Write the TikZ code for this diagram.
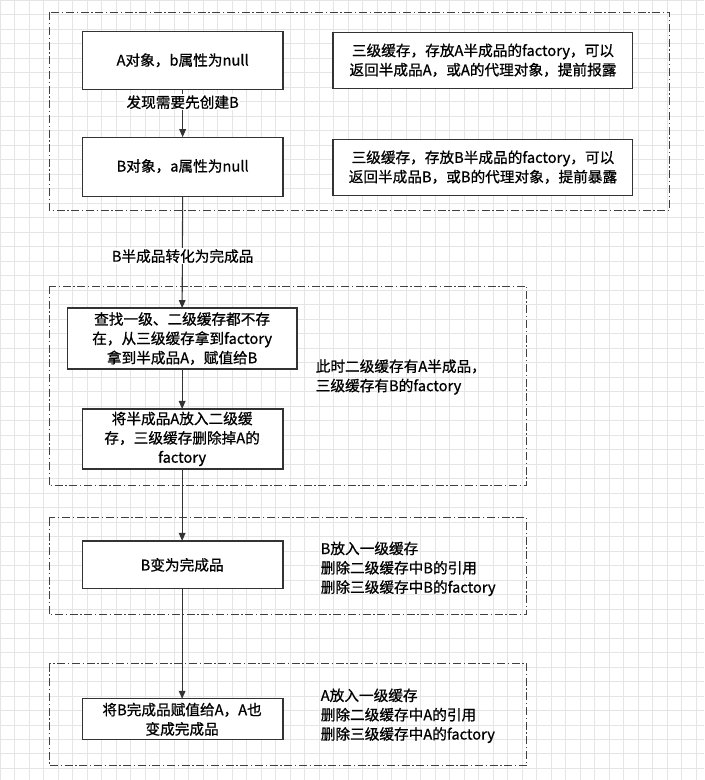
\documentclass[tikz,border=0pt]{standalone}
\usepackage{fontspec}
\setmainfont{Noto Sans CJK SC}[FakeBold=0.8]
\usetikzlibrary{arrows.meta}
\begin{document}
\begin{tikzpicture}[x=0.75pt,y=-0.75pt,
  font=\fontsize{11}{14.5}\selectfont,
  grp/.style={draw=black!75,dash pattern=on 6pt off 2pt on 1pt off 2pt,line width=0.8pt},
  bx/.style={draw=black!80,line width=0.9pt},
  arr/.style={-{Triangle[length=6pt,width=5pt]},draw=black!80,line width=0.8pt},
  lbl/.style={fill=white,inner sep=1pt}]
\fill[white] (0,0) rectangle (704,780);
\draw[black!10,step=14.5*0.75pt] (0,0) grid (704,780);
\useasboundingbox (0,0) rectangle (704,780);
% groups
\draw[grp] (49,12) rectangle (670,210);
\draw[grp] (49,286) rectangle (527,486);
\draw[grp] (49,518) rectangle (527,615);
\draw[grp] (49,664) rectangle (527,766);
% boxes
\draw[bx,fill=white] (82,31) rectangle (283,89); \node (a) at (182.5,60) {A对象，b属性为null};
\coordinate (aB) at (182.5,89);
\draw[bx,fill=white] (82,137) rectangle (283,196); \node (b) at (182.5,166) {B对象，a属性为null};
\coordinate (bT) at (182.5,137); \coordinate (bB) at (182.5,196);
\draw[bx,fill=white] (333,32) rectangle (633,88);
\node[align=center] (r1) at (483,60) {三级缓存，存放A半成品的factory，可以\\返回半成品A，或A的代理对象，提前报露};
\draw[bx,fill=white] (333,139) rectangle (633,195);
\node[align=center] (r2) at (483,167) {三级缓存，存放B半成品的factory，可以\\返回半成品B，或B的代理对象，提前暴露};
\draw[bx,fill=white] (67,308) rectangle (297,369);
\node[align=center] (c) at (182,338.5) {查找一级、二级缓存都不存\\在，从三级缓存拿到factory\\拿到半成品A，赋值给B};
\coordinate (cT) at (182,308); \coordinate (cB) at (182,369);
\draw[bx,fill=white] (82,409) rectangle (283,469);
\node[align=center] (d) at (182,439) {将半成品A放入二级缓\\存，三级缓存删除掉A的\\factory};
\coordinate (dT) at (182,409); \coordinate (dB) at (182,469);
\node[align=left,anchor=west] (dn) at (311,377) {此时二级缓存有A半成品，\\三级缓存有B的factory};
\draw[bx,fill=white] (82,541) rectangle (283,589);
\node (e) at (182,565) {B变为完成品};
\coordinate (eT) at (182,541); \coordinate (eB) at (182,589);
\node[align=left,anchor=west] (en) at (316,569) {B放入一级缓存\\删除二级缓存中B的引用\\删除三级缓存中B的factory};
\draw[bx,fill=white] (82,699) rectangle (283,740);
\node[align=center] (f) at (182,719.5) {将B完成品赋值给A，A也\\变成完成品};
\coordinate (fT) at (182,699);
\node[align=left,anchor=west] (fn) at (316,716) {A放入一级缓存\\删除二级缓存中A的引用\\删除三级缓存中A的factory};
% arrows
\draw[arr] (aB) -- (bT);
\node[lbl] (l1) at (182.5,102) {发现需要先创建B};
\draw[arr] (bB) -- (cT);
\node[lbl] (l2) at (182.5,256) {B半成品转化为完成品};
\draw[arr] (cB) -- (dT);
\draw[arr] (dB) -- (eT);
\draw[arr] (eB) -- (fT);
\end{tikzpicture}
\end{document}
